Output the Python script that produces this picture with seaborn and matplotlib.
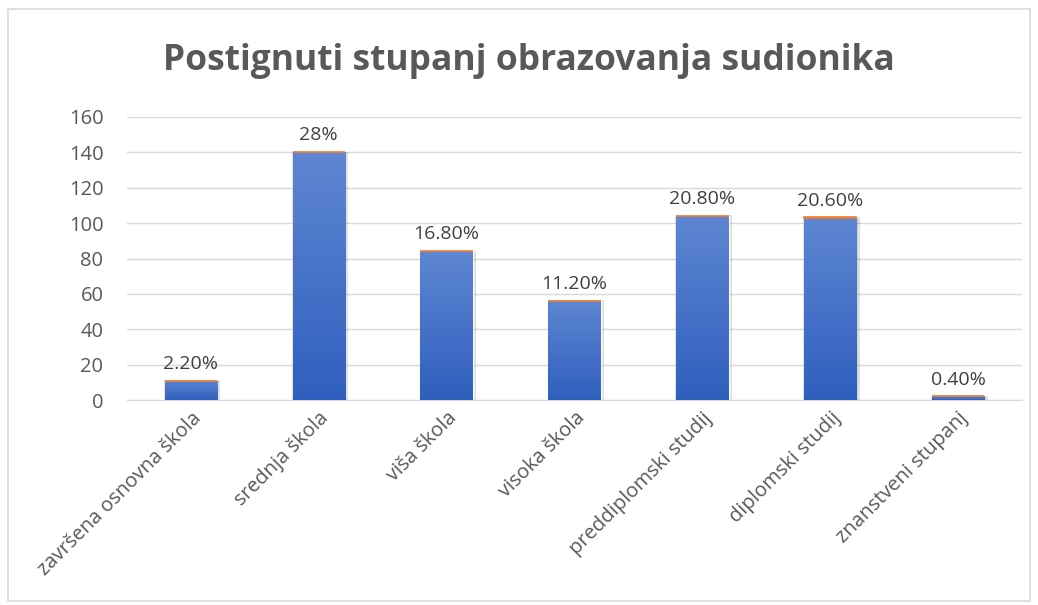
import numpy as np
import pandas as pd
import matplotlib
matplotlib.use("Agg")
import matplotlib.pyplot as plt
import seaborn as sns
from matplotlib.patches import Rectangle

# podaci
kategorije = ["završena osnovna škola", "srednja škola", "viša škola", "visoka škola",
              "preddiplomski studij", "diplomski studij", "znanstveni stupanj"]
broj = [11, 140, 84, 56, 104, 103, 2]
udio = [0.022, 0.28, 0.168, 0.112, 0.208, 0.206, 0.004]
oznake = ["2.20%", "28%", "16.80%", "11.20%", "20.80%", "20.60%", "0.40%"]

data = pd.DataFrame({"kategorija": kategorije, "broj": broj, "udio": udio})

sns.set_style("white")
plt.rcParams["font.family"] = ["Open Sans", "DejaVu Sans"]

fig = plt.figure(figsize=(10.38, 6.05), dpi=100)
ax = fig.add_axes([127 / 1038, 1 - 400 / 605, 895 / 1038, 283 / 605])

# okvir grafikona
fig.patches.append(Rectangle((8 / 1038, 4 / 605), 1022 / 1038, 592 / 605,
                             transform=fig.transFigure, fill=False,
                             edgecolor="#d9d9d9", linewidth=1.2))

sns.barplot(x="kategorija", y="broj", data=data, color="#4472c4", width=0.41,
            ax=ax, zorder=3, saturation=1)
bars = list(ax.patches)

# narančasti dio na vrhu (udio)
ax.bar(range(len(kategorije)), udio, bottom=broj, width=0.41, color="#ed7d31",
       edgecolor="#ed7d31", linewidth=1.2, zorder=4)

# gradijent na stupcima
grad = np.linspace(0, 1, 256).reshape(-1, 1)
cmap = matplotlib.colors.LinearSegmentedColormap.from_list("g", ["#2f5fbe", "#5e86d2"])
for b in bars:
    x0, y0, w, h = b.get_x(), b.get_y(), b.get_width(), b.get_height()
    # sjena
    ax.add_patch(Rectangle((x0 + 0.01, y0 - 0.8), w, h, color="#000000", alpha=0.12,
                           zorder=2, linewidth=3))
    im = ax.imshow(grad, cmap=cmap, extent=(x0, x0 + w, y0, y0 + h), origin="lower",
                   aspect="auto", zorder=3.5)
    im.set_clip_path(b)

for i, t in enumerate(oznake):
    ax.text(i, broj[i] + 4.5, t, ha="center", va="bottom", fontsize=14, color="#404040")

ax.set_xlim(-0.5, len(kategorije) - 0.5)
ax.set_ylim(0, 160)
ax.set_yticks(range(0, 161, 20))
ax.yaxis.grid(True, color="#d9d9d9", linewidth=1)
ax.set_axisbelow(True)
for s in ["top", "right", "left"]:
    ax.spines[s].set_visible(False)
ax.spines["bottom"].set_color("#d9d9d9")
ax.spines["bottom"].set_zorder(1)
ax.tick_params(axis="y", labelsize=14.5, labelcolor="#595959", length=0, pad=17)
ax.tick_params(axis="x", labelsize=14.5, labelcolor="#595959", length=0, pad=6)
plt.setp(ax.get_xticklabels(), rotation=45, ha="right", rotation_mode="anchor")
ax.set_xlabel("")
ax.set_ylabel("")

fig.text(529 / 1038, 1 - 61 / 605, "Postignuti stupanj obrazovanja sudionika",
         ha="center", va="center", fontsize=25.5, fontweight="bold", color="#595959")

fig.savefig("out.png", dpi=100)
